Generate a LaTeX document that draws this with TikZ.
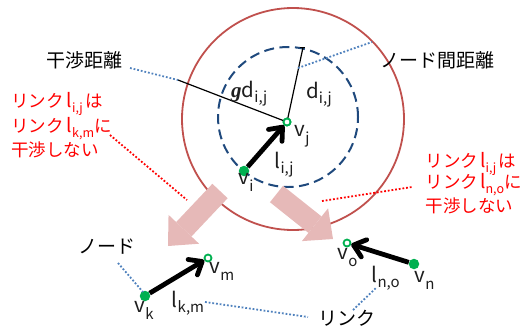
\documentclass[tikz,border=0pt]{standalone}
\usepackage{fontspec}
\setmainfont{Noto Sans CJK JP}
\newfontfamily\gfont{Liberation Serif}
\usetikzlibrary{arrows.meta}
\definecolor{redc}{RGB}{192,80,77}
\definecolor{navyc}{RGB}{31,73,125}
\definecolor{bluedot}{RGB}{79,129,189}
\definecolor{greenc}{RGB}{0,176,80}
\definecolor{pinkc}{RGB}{230,185,184}
\definecolor{txtc}{RGB}{30,30,30}
\newcommand\Lt[1]{{\fontsize{20.5}{20.5}\selectfont #1}}
\newcommand\Sv[1]{\raisebox{-7pt}{\fontsize{15}{15}\selectfont #1}}
\newcommand\Sl[1]{\raisebox{-5pt}{\fontsize{15}{15}\selectfont #1}}
\newcommand\Lr[1]{{\fontsize{19}{19}\selectfont #1}}
\newcommand\Sr[1]{\raisebox{-5pt}{\fontsize{12.5}{12.5}\selectfont #1}}
\tikzset{
  lbl/.style={inner sep=0pt, anchor=base west, text=txtc},
  jlbl/.style={inner sep=0pt, anchor=base west, text=black, font=\fontsize{19}{19}\selectfont},
  rlbl/.style={inner sep=0pt, anchor=base west, text=red, font=\fontsize{17.5}{17.5}\selectfont},
  fullnode/.style={circle, fill=greenc, inner sep=0pt, minimum size=10.5pt},
  opennode/.style={circle, draw=greenc, fill=white, line width=1.8pt, inner sep=0pt, minimum size=7pt},
  linkarrow/.style={line width=4.8pt, -{Straight Barb[length=11pt 0, width=18pt 0, round]}},
  pinkarrow/.style={pinkc, line width=21pt, -{Triangle[length=23pt 0, width=42pt 0, line width=0pt]}},
  bdot/.style={bluedot, line width=1.8pt, dash pattern=on 1.8pt off 1.9pt},
  rdot/.style={red, line width=1.8pt, dash pattern=on 1.8pt off 1.9pt},
  thinline/.style={black, line width=1.2pt},
}
\begin{document}
\begin{tikzpicture}[x=1pt,y=-1pt]
\useasboundingbox (0,0) rectangle (521,333);
% circles
\node[circle, draw=redc, line width=1.8pt, minimum size=222pt, inner sep=0pt] (bigc) at (293,119) {};
\node[circle, draw=navyc, line width=2pt, dash pattern=on 10pt off 5.5pt, minimum size=140pt, inner sep=0pt] (dashc) at (288,117) {};
% nodes
\node[opennode] (vj) at (287,122) {};
\node[fullnode] (vi) at (244,171) {};
\node[fullnode] (vk) at (145,296) {};
\node[opennode] (vm) at (208,258) {};
\node[fullnode] (vn) at (414,264) {};
\node[opennode] (vo) at (347,243) {};
% distance lines
\coordinate (gdEnd) at (178,80);
\coordinate (dEnd) at (303,47.5);
\draw[thinline] (vj.center) -- (gdEnd);
\draw[thinline] (vj.center) -- (dEnd);
\coordinate (dTickL) at (299.5,47.5);
\coordinate (dTickR) at (305,47.5);
\draw[thinline] (dTickL) -- (dTickR);
\node[opennode] at (vj) {};
% pink arrows
\coordinate (pa1s) at (220,191);
\coordinate (pa1t) at (168,246);
\coordinate (pa2s) at (276.5,194);
\coordinate (pa2t) at (333,239);
\draw[pinkarrow] (pa1s) -- (pa1t);
\draw[pinkarrow] (pa2s) -- (pa2t);
% links
\draw[linkarrow] (vi) -- (vj);
\draw[linkarrow] (vk) -- (vm);
\draw[linkarrow] (vn) -- (vo);
% labels
\node[lbl] (lvj) at (294.5,136) {\Lt{v}\Sv{j}};
\node[lbl] (lvi) at (238.5,184) {\Lt{v}\Sv{i}};
\node[lbl] (llij) at (274.5,168) {\Lt{l}\Sl{i,j}};
\node[lbl] (ldij) at (306,98) {\Lt{d}\Sl{i,j}};
\node[lbl] (lgdij) at (231,97) {{\gfont\bfseries\itshape\fontsize{21}{21}\selectfont g}\Lt{d}\Sl{i,j}};
\node[lbl] (lvm) at (209.5,273) {\Lt{v}\Sv{m}};
\node[lbl] (lvk) at (134.5,312) {\Lt{v}\Sv{k}};
\node[lbl] (llkm) at (171.5,307) {\Lt{l}\Sl{k,m}};
\node[lbl] (lvo) at (337.5,259) {\Lt{v}\Sv{o}};
\node[lbl] (lvn) at (414.5,282) {\Lt{v}\Sv{n}};
\node[lbl] (llno) at (371.5,282) {\Lt{l}\Sl{n,o}};
% japanese labels
\node[jlbl] (tkan) at (46,67) {干渉距離};
\node[jlbl] (tnode) at (380,67) {ノード間距離};
\node[jlbl] (tnd) at (78,253) {ノード};
\node[jlbl] (tlink) at (318,325) {リンク};
% red text
\node[rlbl] (r1a) at (11,107) {リンク\hspace{3pt}\Lr{l}\Sr{i,j}\hspace{3pt}は};
\node[rlbl] (r1b) at (11,132) {リンク\hspace{3pt}\Lr{l}\Sr{k,m}に};
\node[rlbl] (r1c) at (11,156) {干渉しない};
\node[rlbl] (r2a) at (425.5,167) {リンク\hspace{2pt}\Lr{l}\Sr{i,j}\hspace{2pt}は};
\node[rlbl] (r2b) at (425.5,188) {リンク\hspace{2pt}\Lr{l}\Sr{n,o}に};
\node[rlbl] (r2c) at (425.5,212) {干渉しない};
% leaders
\coordinate (bk1) at (130,68);
\draw[bdot] (bk1) -- (gdEnd);
\coordinate (bn1) at (298,68);
\coordinate (bn2) at (372,42);
\draw[bdot] (bn1) -- (bn2);
\coordinate (bd1) at (118,263);
\coordinate (bd2) at (143,292);
\draw[bdot] (bd1) -- (bd2);
\coordinate (bl1) at (205,302);
\coordinate (bl2) at (308,317);
\draw[bdot] (bl1) -- (bl2);
\coordinate (bl3) at (353,310);
\coordinate (bl4) at (377,287);
\draw[bdot] (bl3) -- (bl4);
\coordinate (rd1) at (110,135);
\coordinate (rd2) at (187,200);
\draw[rdot] (rd1) -- (rd2);
\coordinate (rd3) at (322,201);
\coordinate (rd4) at (412,187);
\draw[rdot] (rd3) -- (rd4);
\end{tikzpicture}
\end{document}
